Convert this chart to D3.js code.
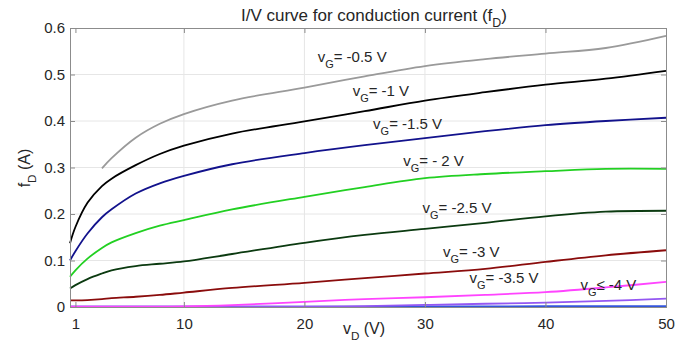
<!DOCTYPE html>
<html>
<head>
<meta charset="utf-8">
<script src="https://cdn.jsdelivr.net/npm/d3@7"></script>
<style>
  body { margin: 0; background: #fff; }
  text { font-family: "Liberation Sans", Arial, sans-serif; fill: #262626; }
</style>
</head>
<body>
<div id="chart"></div>
<script>
// Data
const vD = [0.55, 1, 2, 3.2, 4, 6, 8, 10, 14, 20, 25, 30, 35, 40, 45, 50];

const fD_m05 = [null, null, null, 0.298, 0.320, 0.364, 0.394, 0.415, 0.444, 0.472, 0.496, 0.518, 0.533, 0.545, 0.557, 0.583];
const fD_m1  = [0.137, 0.172, 0.224, 0.260, 0.276, 0.305, 0.329, 0.347, 0.373, 0.399, 0.421, 0.444, 0.462, 0.478, 0.491, 0.508];
const fD_m15 = [0.100, 0.120, 0.158, 0.193, 0.210, 0.244, 0.266, 0.282, 0.307, 0.331, 0.348, 0.363, 0.378, 0.391, 0.400, 0.407];
const fD_m2  = [0.065, 0.079, 0.104, 0.127, 0.139, 0.159, 0.175, 0.187, 0.210, 0.237, 0.258, 0.277, 0.286, 0.292, 0.297, 0.297];
const fD_m25 = [0.040, 0.047, 0.060, 0.072, 0.079, 0.088, 0.093, 0.098, 0.114, 0.138, 0.155, 0.168, 0.181, 0.195, 0.205, 0.207];
const fD_m3  = [0.0143, 0.0143, 0.015, 0.017, 0.019, 0.022, 0.026, 0.031, 0.041, 0.052, 0.062, 0.072, 0.082, 0.097, 0.111, 0.122];
const fD_m35 = [0.001, 0.001, 0.001, 0.001, 0.001, 0.001, 0.001, 0.0012, 0.004, 0.011, 0.017, 0.021, 0.026, 0.032, 0.042, 0.054];
const fD_m4  = [0.0005, 0.0005, 0.0005, 0.0005, 0.0005, 0.0005, 0.0005, 0.0005, 0.0006, 0.001, 0.002, 0.0045, 0.007, 0.0094, 0.013, 0.018];
const fD_m45 = [0.0005, 0.0005, 0.0005, 0.0005, 0.0005, 0.0005, 0.0005, 0.0005, 0.0005, 0.0008, 0.001, 0.0012, 0.0014, 0.0016, 0.0018, 0.002];

const seriesNames  = ["-4.5", "-4", "-3.5", "-3", "-2.5", "-2", "-1.5", "-1", "-0.5"];
const seriesValues = [fD_m45, fD_m4, fD_m35, fD_m3, fD_m25, fD_m2, fD_m15, fD_m1, fD_m05];
const seriesColors = ["#3355dd", "#9457f2", "#ff44ff", "#8a0c0c", "#0b3a10", "#22d022", "#12128c", "#000000", "#9a9a9a"];

const xTicks = [1, 10, 20, 30, 40, 50];
const yTicks = [0, 0.1, 0.2, 0.3, 0.4, 0.5, 0.6];

// Curve labels: [text before sub, sub, text after, vD anchor, fD anchor]
const curveLabels = [
  ["v", "G", "= -0.5 V", 21.1, 0.527],
  ["v", "G", "= -1 V",   24.0, 0.454],
  ["v", "G", "= -1.5 V", 25.7, 0.383],
  ["v", "G", "= - 2 V",  28.2, 0.303],
  ["v", "G", "= -2.5 V", 29.8, 0.202],
  ["v", "G", "= -3 V",   31.5, 0.108],
  ["v", "G", "= -3.5 V", 33.7, 0.052],
  ["v", "G", "\u2264 -4 V", 42.9, 0.037]
];

// Dimensions
const W = 691, H = 348;
const plot = { left: 70, right: 666, top: 28, bottom: 307 };

const svg = d3.select("#chart").append("svg")
  .attr("width", W).attr("height", H);

const x = d3.scaleLinear().domain([0.55, 50]).range([plot.left, plot.right]);
const y = d3.scaleLinear().domain([0, 0.6]).range([plot.bottom, plot.top]);

// Grid
svg.append("g").selectAll("line").data(xTicks.slice(1, -1)).enter().append("line")
  .attr("x1", d => x(d)).attr("x2", d => x(d))
  .attr("y1", plot.top).attr("y2", plot.bottom)
  .attr("stroke", "#e6e6e6").attr("stroke-width", 1);
svg.append("g").selectAll("line").data(yTicks.slice(1, -1)).enter().append("line")
  .attr("x1", plot.left).attr("x2", plot.right)
  .attr("y1", d => y(d)).attr("y2", d => y(d))
  .attr("stroke", "#e6e6e6").attr("stroke-width", 1);

// Curves
const line = d3.line()
  .defined(d => d[1] !== null)
  .x(d => x(d[0]))
  .y(d => y(d[1]))
  .curve(d3.curveCatmullRom.alpha(0.5));

seriesValues.forEach((vals, i) => {
  svg.append("path")
    .datum(vD.map((v, j) => [v, vals[j]]))
    .attr("fill", "none")
    .attr("stroke", seriesColors[i])
    .attr("stroke-width", 1.8)
    .attr("d", line);
});

// Box with inward ticks
const axisColor = "#8c8c8c";
svg.append("rect")
  .attr("x", plot.left + 0.5).attr("y", plot.top + 0.5)
  .attr("width", plot.right - plot.left).attr("height", plot.bottom - plot.top)
  .attr("fill", "none").attr("stroke", axisColor).attr("stroke-width", 1);

const xAxisB = d3.axisBottom(x).tickValues(xTicks).tickSizeInner(-5).tickSizeOuter(0).tickFormat(d3.format("d"));
const xAxisT = d3.axisTop(x).tickValues(xTicks).tickSizeInner(-5).tickSizeOuter(0).tickFormat("");
const yAxisL = d3.axisLeft(y).tickValues(yTicks).tickSizeInner(-5).tickSizeOuter(0).tickFormat(d => d === 0 ? "0" : d3.format(".1f")(d));
const yAxisR = d3.axisRight(y).tickValues(yTicks).tickSizeInner(-5).tickSizeOuter(0).tickFormat("");

function styleAxis(g) {
  g.select(".domain").remove();
  g.selectAll(".tick line").attr("stroke", axisColor);
  g.selectAll(".tick text")
    .style("font-family", "'Liberation Sans', Arial, sans-serif")
    .style("font-size", "15px")
    .attr("fill", "#262626");
}

svg.append("g").attr("transform", `translate(0,${plot.bottom})`).call(xAxisB).call(styleAxis)
  .selectAll(".tick text").attr("dy", null).attr("y", 22);
svg.append("g").attr("transform", `translate(0,${plot.top})`).call(xAxisT).call(styleAxis);
svg.append("g").attr("transform", `translate(${plot.left},0)`).call(yAxisL).call(styleAxis)
  .selectAll(".tick text").attr("x", -5);
svg.append("g").attr("transform", `translate(${plot.right},0)`).call(yAxisR).call(styleAxis);

// Text with subscript helper
function subText(g, base, sub, rest, size) {
  const t = g.append("text").style("font-size", size + "px");
  t.append("tspan").text(base);
  t.append("tspan").attr("dy", 6).style("font-size", (size * 0.73) + "px").text(sub);
  t.append("tspan").attr("dy", -6).text(rest);
  return t;
}

// Curve labels
curveLabels.forEach(l => {
  subText(svg, l[0], l[1], l[2], 15)
    .attr("x", x(l[3])).attr("y", y(l[4]));
});

// Title
subText(svg, "I/V curve for conduction current (f", "D", ")", 17)
  .attr("x", 374).attr("y", 21).attr("text-anchor", "middle");

// X label
subText(svg, "v", "D", " (V)", 16)
  .attr("x", 364).attr("y", 334).attr("text-anchor", "middle");

// Y label
subText(svg, "f", "D", " (A)", 16)
  .attr("text-anchor", "middle")
  .attr("transform", "translate(30,168) rotate(-90)");
</script>
</body>
</html>
